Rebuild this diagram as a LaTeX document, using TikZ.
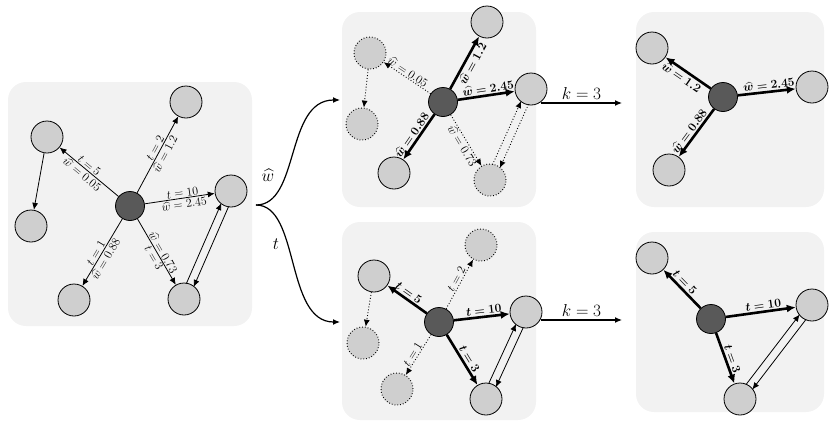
\documentclass[tikz,border=0pt]{standalone}
\usepackage{amsmath,bm}
\usetikzlibrary{arrows.meta,calc}
\begin{document}
\begin{tikzpicture}[x=1pt,y=-1pt,
  panel/.style={fill=black!5,rounded corners=18pt,draw=none},
  nd/.style={circle,draw=black,fill=black!19,minimum size=32pt,inner sep=0,line width=0.8pt},
  ndd/.style={nd,dotted,line width=1pt},
  cn/.style={circle,draw=black,fill=black!65,minimum size=29pt,inner sep=0,line width=0.8pt},
  ed/.style={-{Latex[length=7pt,width=6pt]},line width=0.8pt},
  edt/.style={-{Latex[length=9pt,width=8pt]},line width=2.6pt},
  edd/.style={-{Latex[length=7pt,width=6pt]},line width=0.9pt,dotted},
  lb/.style={font=\large,inner sep=1pt,pos=0.55},
  bl/.style={font=\large,inner sep=1.5pt,pos=0.55},
  big/.style={font=\fontsize{18}{18}\selectfont}]
\useasboundingbox (0,0) rectangle (831,424);
% panels
\fill[panel] (8,82) rectangle (252,326);
\fill[panel] (342,12) rectangle (536,207);
\fill[panel] (342,222) rectangle (536,420);
\fill[panel] (636,12) rectangle (824,207);
\fill[panel] (636,232) rectangle (824,412);
% ---------- left panel
\node[cn] (C) at (130,206) {};
\node[nd] (A1) at (47,137) {};
\node[nd] (A2) at (31,226) {};
\node[nd] (B) at (186,102) {};
\node[nd] (R) at (231,191) {};
\node[nd] (D) at (74,300) {};
\node[nd] (E) at (184,299) {};
\draw[ed] (C) -- node[lb,sloped,above]{$t=5$} node[lb,sloped,below]{$\widehat{w}=0.05$} (A1);
\draw[ed] (C) -- node[lb,sloped,above]{$t=2$} node[lb,sloped,below]{$\widehat{w}=1.2$} (B);
\draw[ed] (C) -- node[lb,sloped,above]{$t=10$} node[lb,sloped,below]{$\widehat{w}=2.45$} (R);
\draw[ed] (C) -- node[lb,sloped,above]{$t=1$} node[lb,sloped,below]{$\widehat{w}=0.88$} (D);
\draw[ed] (C) -- node[lb,sloped,above]{$\widehat{w}=0.73$} node[lb,sloped,below]{$t=3$} (E);
\draw[ed] (A1) -- (A2);
\draw[ed,shorten <=15pt,shorten >=15pt] ($(E)!4pt!90:(R)$) -- ($(R)!4pt!-90:(E)$);
\draw[ed,shorten <=15pt,shorten >=15pt] ($(R)!4pt!90:(E)$) -- ($(E)!4pt!-90:(R)$);
% ---------- top middle
\node[cn] (C2) at (443,102) {};
\node[nd] (TR2) at (487,22) {};
\node[ndd] (L12) at (370,53) {};
\node[ndd] (L22) at (362,124) {};
\node[nd] (R2) at (531,89) {};
\node[nd] (BL2) at (394,173) {};
\node[ndd] (BR2) at (490,180) {};
\draw[edt] (C2) -- node[bl,sloped,below]{$\bm{\widehat{w}=1.2}$} (TR2);
\draw[edt] (C2) -- node[bl,sloped,above]{$\bm{\widehat{w}=2.45}$} (R2);
\draw[edt] (C2) -- node[bl,sloped,above]{$\bm{\widehat{w}=0.88}$} (BL2);
\draw[edd] (C2) -- node[lb,sloped,above]{$\widehat{w}=0.05$} (L12);
\draw[edd] (C2) -- node[lb,sloped,below]{$\widehat{w}=0.73$} (BR2);
\draw[edd] (L12) -- (L22);
\draw[edd,shorten <=15pt,shorten >=15pt] ($(BR2)!4pt!90:(R2)$) -- ($(R2)!4pt!-90:(BR2)$);
\draw[edd,shorten <=15pt,shorten >=15pt] ($(R2)!4pt!90:(BR2)$) -- ($(BR2)!4pt!-90:(R2)$);
% ---------- bottom middle
\node[cn] (C3) at (439,322) {};
\node[nd] (TL3) at (374,276) {};
\node[ndd] (T3) at (481,245) {};
\node[nd] (R3) at (526,312) {};
\node[ndd] (L3) at (363,343) {};
\node[ndd] (BL3) at (397,389) {};
\node[nd] (BR3) at (486,399) {};
\draw[edt] (C3) -- node[bl,sloped,above]{$\bm{t=5}$} (TL3);
\draw[edt] (C3) -- node[bl,sloped,above]{$\bm{t=10}$} (R3);
\draw[edt] (C3) -- node[bl,sloped,above]{$\bm{t=3}$} (BR3);
\draw[edd] (C3) -- node[lb,sloped,above]{$t=2$} (T3);
\draw[edd] (C3) -- node[lb,sloped,above]{$t=1$} (BL3);
\draw[edd] (TL3) -- (L3);
\draw[ed,shorten <=15pt,shorten >=15pt] ($(BR3)!4pt!90:(R3)$) -- ($(R3)!4pt!-90:(BR3)$);
\draw[ed,shorten <=15pt,shorten >=15pt] ($(R3)!4pt!90:(BR3)$) -- ($(BR3)!4pt!-90:(R3)$);
% ---------- top right
\node[cn] (C4) at (723,97) {};
\node[nd] (TL4) at (652,48) {};
\node[nd] (R4) at (812,87) {};
\node[nd] (BL4) at (669,170) {};
\draw[edt] (C4) -- node[bl,sloped,below]{$\bm{\widehat{w}=1.2}$} (TL4);
\draw[edt] (C4) -- node[bl,sloped,above]{$\bm{\widehat{w}=2.45}$} (R4);
\draw[edt] (C4) -- node[bl,sloped,above]{$\bm{\widehat{w}=0.88}$} (BL4);
% ---------- bottom right
\node[cn] (C5) at (711,319) {};
\node[nd] (TL5) at (652,258) {};
\node[nd] (R5) at (812,305) {};
\node[nd] (BR5) at (740,399) {};
\draw[edt] (C5) -- node[bl,sloped,above]{$\bm{t=5}$} (TL5);
\draw[edt] (C5) -- node[bl,sloped,above]{$\bm{t=10}$} (R5);
\draw[edt] (C5) -- node[bl,sloped,above]{$\bm{t=3}$} (BR5);
\draw[ed,shorten <=15pt,shorten >=15pt] ($(BR5)!4pt!90:(R5)$) -- ($(R5)!4pt!-90:(BR5)$);
\draw[ed,shorten <=15pt,shorten >=15pt] ($(R5)!4pt!90:(BR5)$) -- ($(BR5)!4pt!-90:(R5)$);
% ---------- transitions
\coordinate (S) at (256,205);
\coordinate (T1) at (340,100);
\coordinate (T2) at (340,322);
\draw[ed,line width=1.2pt] (S) .. controls (300,205) and (285,100) .. (T1);
\draw[ed,line width=1.2pt] (S) .. controls (300,205) and (285,322) .. (T2);
\node[big] (lw) at (268,175) {$\widehat{w}$};
\node[big] (lt) at (276,244) {$t$};
\coordinate (K1a) at (541,103);
\coordinate (K1b) at (622,103);
\coordinate (K2a) at (541,320);
\coordinate (K2b) at (622,320);
\draw[ed,line width=1.2pt] (K1a) -- node[big,above]{$k=3$} (K1b);
\draw[ed,line width=1.2pt] (K2a) -- node[big,above]{$k=3$} (K2b);
\end{tikzpicture}
\end{document}
